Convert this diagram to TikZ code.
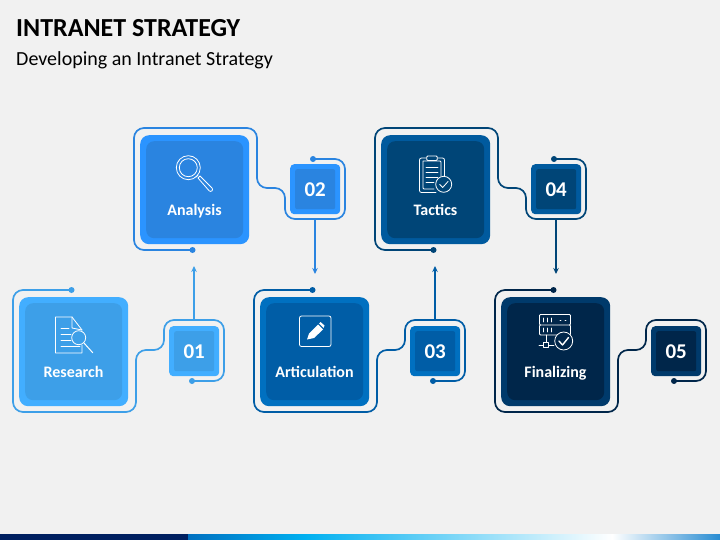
\documentclass[tikz,border=0pt]{standalone}
\usepackage{fontspec}
\setmainfont{Carlito}
\usetikzlibrary{arrows.meta}
\definecolor{bg}{HTML}{F1F1F1}
\definecolor{o1}{HTML}{42AEFF}\definecolor{i1}{HTML}{3D9FE8}\definecolor{w1}{HTML}{3D9FE8}
\definecolor{o2}{HTML}{2B94FF}\definecolor{i2}{HTML}{2A84E0}\definecolor{w2}{HTML}{2A84E0}
\definecolor{o3}{HTML}{0070C0}\definecolor{i3}{HTML}{005DA6}\definecolor{w3}{HTML}{005DA6}
\definecolor{o4}{HTML}{005A9E}\definecolor{i4}{HTML}{004577}\definecolor{w4}{HTML}{004577}
\definecolor{o5}{HTML}{003A6B}\definecolor{i5}{HTML}{00264A}\definecolor{w5}{HTML}{00264A}
\definecolor{barnavy}{HTML}{002060}
\definecolor{barblue}{HTML}{0070C0}
\definecolor{barsky}{HTML}{00B0F0}
\definecolor{barend}{HTML}{288CD2}
\tikzset{
  bigouter/.style={minimum size=109pt,inner sep=0pt,rounded corners=9pt,anchor=north west},
  biginner/.style={minimum size=97pt,inner sep=0pt,rounded corners=8pt,anchor=north west},
  smallouter/.style={minimum size=50pt,inner sep=0pt,rounded corners=4pt,anchor=north west},
  smallinner/.style={minimum size=40pt,inner sep=0pt,rounded corners=2pt,anchor=north west,text=white,font=\bfseries\fontsize{21}{21}\selectfont},
  boxlabel/.style={text=white,inner sep=0pt,anchor=base,font=\bfseries\fontsize{16}{16}\selectfont},
  wire/.style={line width=1.7pt,rounded corners=10pt},
  flow/.style={line width=1.5pt,-{Stealth[length=6pt,width=5.5pt]}},
  icon/.style={draw=white,line width=0.8pt,line cap=round,line join=round},
}
\newcommand\wireA[1]{%
  \coordinate (d#1a) at (52.5,-7);
  \coordinate (d#1b) at (173,84);
  \coordinate (w#1) at (175,23);
  \coordinate (t#1) at (55,-23);
  \draw[wire,draw=w#1] (d#1a) -- (-6,-7) -- (-6,115) -- (117,115) -- (117,53) -- (145,53) -- (145,23) -- (205,23) -- (205,84) -- (d#1b);
  \fill[w#1] (d#1a) circle (3pt) (d#1b) circle (3pt);}
\newcommand\wireB[1]{%
  \coordinate (d#1a) at (52.5,115);
  \coordinate (d#1b) at (173,24);
  \coordinate (w#1) at (175,84);
  \coordinate (t#1) at (54,131);
  \draw[wire,draw=w#1] (d#1a) -- (-6,115) -- (-6,-7) -- (117,-7) -- (117,53) -- (145,53) -- (145,84) -- (205,84) -- (205,24) -- (d#1b);
  \fill[w#1] (d#1a) circle (3pt) (d#1b) circle (3pt);}
\newcommand\stepunit[6]{% id, x, y, label, number, wire shape
  \begin{scope}[shift={(#2,#3)}]
    \node[bigouter,fill=o#1] (big#1) at (0,0) {};
    \node[biginner,fill=i#1] (core#1) at (6,6) {};
    \node[smallouter,fill=o#1] (small#1) at (150,29) {};
    \node[smallinner,fill=i#1] (num#1) at (155,34) {#5};
    \node[boxlabel] (lab#1) at (54.5,80) {#4};
    \csname wire#6\endcsname{#1}
  \end{scope}}
\begin{document}
\begin{tikzpicture}[x=1pt,y=-1pt]
\useasboundingbox (0,0) rectangle (720,540);
\fill[bg] (0,0) rectangle (720,540);
\node[anchor=west,inner sep=0pt,font=\bfseries\fontsize{26}{26}\selectfont] (title) at (16,28.5) {INTRANET STRATEGY};
\node[anchor=west,inner sep=0pt,font=\fontsize{20}{20}\selectfont] (subtitle) at (16,60) {Developing an Intranet Strategy};
% bottom bar
\fill[barnavy] (0,534) rectangle (188,540);
\shade[left color=barblue,right color=barsky] (188,534) rectangle (305,540);
\shade[left color=barsky,right color=white] (305,534) rectangle (612,540);
\shade[left color=white,right color=barend] (612,534) rectangle (720,540);

\stepunit{1}{19}{297}{Research}{01}{A}
\stepunit{2}{140}{135}{Analysis}{02}{B}
\stepunit{3}{260}{297}{Articulation}{03}{A}
\stepunit{4}{381}{135}{Tactics}{04}{B}
\stepunit{5}{501}{297}{Finalizing}{05}{A}

\draw[flow,draw=w1] (w1) -- (t2);
\draw[flow,draw=w2] (w2) -- (t3);
\draw[flow,draw=w3] (w3) -- (t4);
\draw[flow,draw=w4] (w4) -- (t5);

% Research icon
\draw[icon] (82,345) -- (82,353) -- (55.5,353) -- (55.5,317) -- (72,317) -- (82,330);
\draw[icon] (72,317) -- (72,328) -- (82,330);
\draw[icon] (61,328) -- (69,328) (61,334) -- (71,334) (61,340) -- (71,340) (61,346) -- (80,346);
\draw[icon] (78.7,337.7) circle (7);
\draw[icon,line width=1pt] (84,343) -- (92.7,352.7);
% Analysis icon
\draw[icon] (188.3,167.7) circle (12) (188.3,167.7) circle (9);
\draw[icon] (196,177) -- (198,175);
\draw[icon] (198,178) -- (200,176) -- (212,188) arc (-45:135:2) -- cycle;
% Articulation icon
\draw[icon,rounded corners=2pt] (299.5,316) rectangle (331,346.5);
\fill[white] (307,339.5) -- (309,333.5) -- (318,324.5) -- (323,329.5) -- (314,338) -- cycle;
\fill[white] (319,323.5) -- (320.5,322) -- (324.5,325.5) -- (323.5,328) -- cycle;
% Tactics icon
\draw[icon,rounded corners=2pt] (436,192.5) -- (419.5,192.5) -- (419.5,158) -- (444.5,158) -- (444.5,176);
\draw[icon,rounded corners=1pt] (423,161) -- (423,189) -- (434,189) (441,176) -- (441,161) -- (423,161);
\draw[icon,rounded corners=1pt,fill=i4] (426.7,156) rectangle (437.3,160.5);
\draw[icon] (426,167) -- (438,167) (426,172) -- (438,172) (426,177) -- (438,177) (426,182) -- (434,182);
\draw[icon,fill=i4] (443.7,184.3) circle (8);
\draw[icon] (439.7,184.5) -- (442.7,187.5) -- (448,181.5);
% Finalizing icon
\draw[icon,rounded corners=1pt] (539.5,314.5) rectangle (570.5,325) (539.5,325) rectangle (570.5,335);
\draw[icon] (543,318) -- (543,322) (547,318) -- (547,322) (551,318) -- (551,322) (560,320) -- (561,320) (565,320) -- (566,320);
\draw[icon] (543,328) -- (543,332) (547,328) -- (547,332) (551,328) -- (551,332);
\draw[icon] (546,335) -- (546,345) (539,345) -- (554,345);
\draw[icon,fill=i5] (543.5,342.5) rectangle (548.5,347.5);
\draw[icon,fill=i5] (563.7,341) circle (9);
\draw[icon,line width=1.4pt] (559,341) -- (562.5,345) -- (568.5,337.5);
\end{tikzpicture}
\end{document}
